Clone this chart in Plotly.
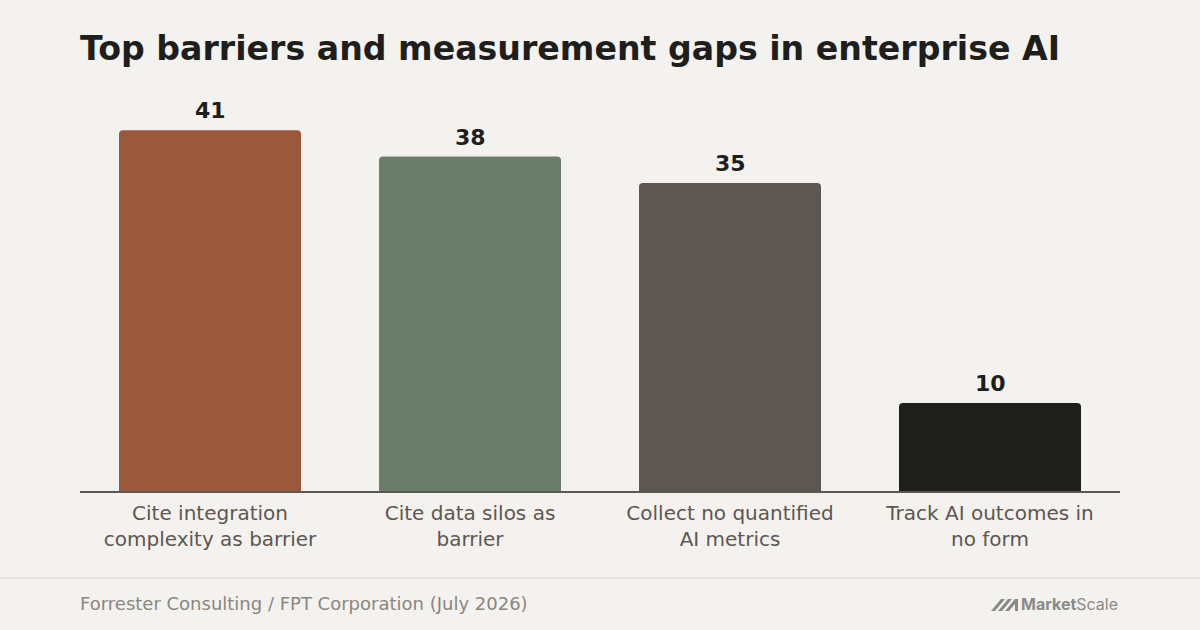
import plotly.graph_objects as go

categories = [
    "Cite integration<br>complexity as barrier",
    "Cite data silos as<br>barrier",
    "Collect no quantified<br>AI metrics",
    "Track AI outcomes in<br>no form",
]
values = [41, 38, 35, 10]
bar_colors = ["#9a583c", "#6b7c6a", "#5c5751", "#1e1e1c"]

title_text = "Top barriers and measurement gaps in enterprise AI"
source_text = "Forrester Consulting / FPT Corporation (July 2026)"

bg = "#f4f2ee"
font_family = "DejaVu Sans"

fig = go.Figure(
    go.Bar(
        x=categories,
        y=values,
        marker=dict(color=bar_colors, cornerradius=4, line=dict(width=0)),
        width=0.7,
        hoverinfo="skip",
    )
)

# value labels above the bars
for cat, val in zip(categories, values):
    fig.add_annotation(
        x=cat, y=val,
        text=f"<b>{val}</b>",
        showarrow=False,
        yanchor="bottom",
        yshift=5,
        font=dict(family=font_family, size=22, color="#1e1e1c"),
    )

fig.update_layout(
    width=1200,
    height=630,
    paper_bgcolor=bg,
    plot_bgcolor=bg,
    margin=dict(l=80, r=80, t=95, b=139),
    showlegend=False,
    bargap=0.3,
    font=dict(family=font_family),
    title=dict(
        text="<b>" + title_text + "</b>",
        x=80 / 1200,
        xanchor="left",
        y=1 - 48 / 630,
        yanchor="middle",
        font=dict(family=font_family, size=33.2, color="#1e1e1c"),
    ),
)

fig.update_xaxes(
    showgrid=False,
    showline=True,
    linecolor="#5c5751",
    linewidth=2,
    ticks="",
    ticklabelstandoff=3,
    tickfont=dict(family=font_family, size=20, color="#5c5751"),
)
fig.update_yaxes(
    range=[0, 45],
    visible=False,
    showgrid=False,
    zeroline=False,
)

# footer separator
fig.add_shape(
    type="line", xref="paper", yref="paper",
    x0=-80 / 1040, x1=1120 / 1040,
    y0=-(578 - 491) / 396, y1=-(578 - 491) / 396,
    line=dict(color="#e6e3de", width=2),
)

# source
fig.add_annotation(
    text=source_text,
    xref="paper", yref="paper",
    x=0, y=-(603 - 491) / 396,
    xanchor="left", yanchor="middle",
    xshift=-2,
    showarrow=False,
    font=dict(family=font_family, size=18, color="#8a8680"),
)

# logo
fig.add_annotation(
    text="<b>Market</b>Scale",
    xref="paper", yref="paper",
    x=1, y=-(604 - 491) / 396,
    xanchor="right", yanchor="middle",
    showarrow=False,
    font=dict(family="Inter", size=16, color="#8a8a88"),
)

def px_x(x):
    return (x - 80) / 1040

def px_y(y):
    return (491 - y) / 396

icon_path = (
    f"M {px_x(991)},{px_y(611)} L {px_x(1001)},{px_y(599)} L {px_x(1005)},{px_y(599)} "
    f"L {px_x(995)},{px_y(611)} Z "
    f"M {px_x(998)},{px_y(611)} L {px_x(1008)},{px_y(599)} L {px_x(1012)},{px_y(599)} "
    f"L {px_x(1002)},{px_y(611)} Z "
    f"M {px_x(1005)},{px_y(611)} L {px_x(1015)},{px_y(599)} L {px_x(1018)},{px_y(599)} "
    f"L {px_x(1018)},{px_y(611)} L {px_x(1015)},{px_y(611)} L {px_x(1015)},{px_y(604)} "
    f"L {px_x(1009)},{px_y(611)} Z"
)
fig.add_shape(
    type="path", xref="paper", yref="paper",
    path=icon_path,
    fillcolor="#8a8a88",
    line=dict(width=0),
)

fig.write_html(
    "out.html",
    config={"displayModeBar": False},
    post_script="document.body.style.margin='0';document.body.style.background='#f4f2ee';",
)
